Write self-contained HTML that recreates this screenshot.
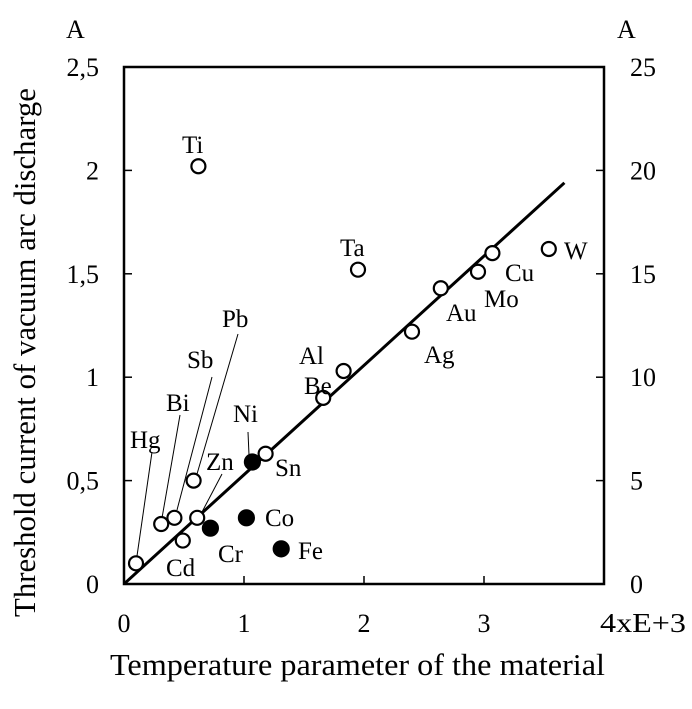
<!DOCTYPE html>
<html><head><meta charset="utf-8"><style>
body{margin:0;background:#fff;width:692px;height:704px;overflow:hidden}
svg text{font-family:"Liberation Serif",serif;fill:#000}
</style></head><body>
<svg id="chart" width="692" height="704" viewBox="0 0 692 704"></svg>
<script>
const names=["Hg","Bi","Sb","Pb","Zn","Cd","Ni","Sn","Cr","Co","Fe","Be","Al","Ti","Ta","Ag","Au","Mo","Cu","W"];
const xVals=[0.1,0.31,0.42,0.58,0.61,0.49,1.07,1.18,0.72,1.02,1.31,1.66,1.83,0.62,1.95,2.4,2.64,2.95,3.07,3.54];
const yVals=[0.10,0.29,0.32,0.50,0.32,0.21,0.59,0.63,0.27,0.32,0.17,0.90,1.03,2.02,1.52,1.22,1.43,1.51,1.60,1.62];
const filled=[0,0,0,0,0,0,1,0,1,1,1,0,0,0,0,0,0,0,0,0];
const xTicks=[0,1,2,3];
const yTicks=["0","0,5","1","1,5","2","2,5"];
const yRightTicks=["0","5","10","15","20","25"];
const fitLine=[[0,0],[3.67,1.94]];
const labelPos={Hg:[130,448],Bi:[166,411],Sb:[187,368],Pb:[222,327],Zn:[206,470],Cd:[166,576],Ni:[233,422],Sn:[275,476],Cr:[218,562],Co:[265,526],Fe:[298,559],Be:[304,394],Al:[299,364],Ti:[182,153],Ta:[340,256],Ag:[424,363],Au:[446,321],Mo:[484,307],Cu:[505,281],W:[564,259]};
const leaders={Hg:[[152,452],[137,556]],Bi:[[180,415],[162,518]],Sb:[[212,377],[177,510]],Pb:[[238,334],[197,474]],Zn:[[222,474],[202,512]],Ni:[[248,432],[249,455]]};
const L=124,R=604,B=584,T=67;
const sx=v=>L+v*(R-L)/4, sy=v=>B-v*(B-T)/2.5;
const svg=document.getElementById('chart');const NS='http://www.w3.org/2000/svg';
function mk(t,a,p){const e=document.createElementNS(NS,t);for(const k in a)e.setAttribute(k,a[k]);(p||svg).appendChild(e);return e;}
let e=mk('rect',{x:L,y:T,width:R-L,height:B-T,fill:'none',stroke:'#000','stroke-width':2.5});


yTicks.forEach((t,i)=>{const y=sy(i*0.5);
 let a=mk('line',{x1:L,x2:L+8,y1:y,y2:y,stroke:'#000','stroke-width':1.5});
 let b=mk('line',{x1:R-8,x2:R,y1:y,y2:y,stroke:'#000','stroke-width':1.5});
 let tx=mk('text',{x:L-25,y:y+9,'font-size':26,'text-anchor':'end'});tx.textContent=t;
 let tr=mk('text',{x:R+26,y:y+9,'font-size':26});tr.textContent=yRightTicks[i];
});
xTicks.forEach(v=>{const x=sx(v);
 let a=mk('line',{x1:x,x2:x,y1:B,y2:B-8,stroke:'#000','stroke-width':1.5});
 let tx=mk('text',{x:x,y:B+48,'font-size':26,'text-anchor':'middle'});tx.textContent=v;
});
let x4=mk('text',{x:600,y:B+48,'font-size':27,textLength:86,lengthAdjust:'spacingAndGlyphs'});x4.textContent='4xE+3';
let ua=mk('text',{x:66,y:38,'font-size':26});ua.textContent='A';
let ub=mk('text',{x:617,y:38,'font-size':26});ub.textContent='A';
let xt=mk('text',{x:110,y:675,'font-size':31,textLength:495,lengthAdjust:'spacingAndGlyphs'});xt.textContent='Temperature parameter of the material';
let yt=mk('text',{x:0,y:0,'font-size':31,textLength:529,lengthAdjust:'spacingAndGlyphs',transform:'translate(35,617) rotate(-90)'});yt.textContent='Threshold current of vacuum arc discharge';
let fl=mk('line',{x1:sx(fitLine[0][0]),y1:sy(fitLine[0][1]),x2:sx(fitLine[1][0]),y2:sy(fitLine[1][1]),stroke:'#000','stroke-width':3});

for(const n in leaders){const p=leaders[n];let l=mk('line',{x1:p[0][0],y1:p[0][1],x2:p[1][0],y2:p[1][1],stroke:'#000','stroke-width':1});}
names.forEach((n,i)=>{
 let c=mk('circle',{cx:sx(xVals[i]),cy:sy(yVals[i]),r:filled[i]?7.5:7,fill:filled[i]?'#000':'#fff',stroke:'#000','stroke-width':2.2});
 
 
 const lp=labelPos[n];
 let t=mk('text',{x:lp[0],y:lp[1],'font-size':25});t.textContent=n;
 
 
});
</script>
</body></html>
